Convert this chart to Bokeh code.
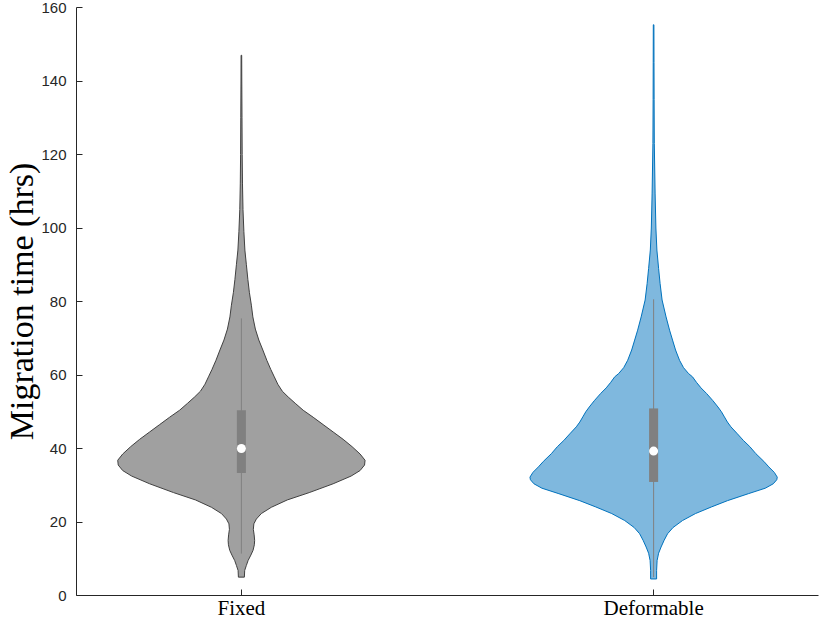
from bokeh.plotting import figure
from bokeh.models import Range1d, FixedTicker
from bokeh.embed import file_html
from bokeh.resources import INLINE

# ---------------- data ----------------
categories = ["Fixed", "Deformable"]
positions = [1, 2]
y_ticks = [0, 20, 40, 60, 80, 100, 120, 140, 160]

# violin outlines: y values and relative half-widths (density)
fixed_y = [5.0, 6.8, 8.2, 9.5, 11.0, 12.3, 13.8, 15.0, 16.5, 18.0, 19.5, 20.8, 22.3,
           24.0, 26.0, 28.0, 30.4, 32.5, 34.0, 35.5, 36.8, 38.5, 40.5, 42.5, 44.5,
           46.5, 48.5, 50.4, 52.3, 54.0, 55.6, 57.5, 59.5, 61.5, 64.0, 66.8, 69.5,
           72.5, 75.8, 79.0, 82.5, 86.0, 90.0, 94.0, 99.0, 105.0, 112.0, 120.0,
           130.0, 140.0, 147.0]
fixed_density = [3.0, 3.3, 5.0, 6.7, 9.5, 11.7, 13.0, 13.3, 12.8, 12.0, 12.5, 15.0, 20.0,
                 30.0, 46.0, 68.0, 92.0, 110.0, 119.0, 123.5, 124.0, 119.0, 111.0, 102.0,
                 92.0, 82.0, 72.0, 62.0, 54.0, 47.0, 41.0, 36.5, 33.0, 29.5, 25.5, 21.5,
                 17.5, 14.0, 11.5, 10.0, 8.0, 6.5, 5.0, 3.5, 2.5, 1.6, 1.1, 0.8, 0.6,
                 0.4, 0.3]

deform_y = [4.5, 6.8, 9.5, 11.5, 13.2, 15.0, 16.8, 18.5, 20.4, 22.3, 24.1, 25.8, 27.7,
            29.2, 30.4, 31.5, 32.2, 33.5, 35.0, 36.5, 38.6, 40.5, 42.2, 44.0, 45.9,
            47.2, 48.6, 50.0, 51.3, 53.0, 55.0, 56.5, 58.0, 59.5, 60.4, 62.0, 64.0,
            66.8, 69.5, 72.2, 75.8, 80.4, 84.9, 89.0, 94.0, 100.0, 109.5, 123.0,
            135.0, 145.0, 155.3]
deform_density = [3.0, 3.0, 3.5, 5.0, 7.5, 10.5, 14.0, 19.5, 29.0, 42.0, 58.0, 74.0, 95.0,
                  112.0, 120.0, 123.5, 124.0, 121.0, 115.5, 110.5, 102.5, 96.5, 90.0,
                  84.0, 77.5, 74.0, 71.0, 68.0, 64.5, 59.5, 53.0, 47.5, 43.0, 39.0, 35.0,
                  30.0, 26.0, 22.0, 19.0, 16.0, 12.5, 8.5, 6.5, 5.0, 3.3, 2.3, 1.5, 0.7,
                  0.5, 0.4, 0.3]

# box-plot statistics
medians = [40.0, 39.3]
q1 = [33.3, 30.9]
q3 = [50.4, 50.9]
whisker_low = [11.4, 5.0]
whisker_high = [75.4, 80.6]

# ---------------- styles ----------------
fill_colors = ["#A0A0A0", "#7FB8DE"]
edge_colors = ["#404040", "#0072BD"]
box_color = "#808080"
axis_color = "#262626"
half_width = 0.30
box_width = 0.022

p = figure(width=822, height=624,
           x_range=Range1d(0.6, 2.4), y_range=Range1d(0, 160),
           output_backend="svg", toolbar_location=None,
           min_border_left=78, min_border_right=2,
           min_border_top=8, min_border_bottom=28)
p.styles = {"margin": "-1px 0px -10px -2px"}
p.outline_line_color = None
p.xgrid.visible = False
p.ygrid.visible = False
p.background_fill_color = "white"
p.border_fill_color = "white"

violins = [(fixed_y, fixed_density), (deform_y, deform_density)]
for i, (ys, dens) in enumerate(violins):
    c = positions[i]
    m = max(dens)
    right = [c + half_width * d / m for d in dens]
    left = [c - half_width * d / m for d in dens]
    px = right + left[::-1]
    py = list(ys) + list(ys)[::-1]
    p.patch(px, py, fill_color=fill_colors[i], line_color=edge_colors[i], line_width=1)

p.segment(x0=positions, y0=whisker_low, x1=positions, y1=whisker_high,
          line_color=box_color, line_width=1)
p.vbar(x=positions, bottom=q1, top=q3, width=box_width,
       fill_color=box_color, line_color=None)
p.scatter(x=positions, y=medians, size=9, fill_color="white", line_color=None)

# axes
p.xaxis.ticker = FixedTicker(ticks=positions)
p.xaxis.major_label_overrides = {pos: cat for pos, cat in zip(positions, categories)}
p.yaxis.ticker = FixedTicker(ticks=y_ticks)
for ax in (p.xaxis[0], p.yaxis[0]):
    ax.axis_line_color = axis_color
    ax.axis_line_width = 1
    ax.major_tick_line_color = axis_color
    ax.major_tick_in = 6
    ax.major_tick_out = 0
    ax.minor_tick_line_color = None
    ax.major_label_text_color = axis_color

p.yaxis.major_label_text_font = "Liberation Sans"
p.yaxis.major_label_text_font_size = "15px"
p.yaxis.major_label_standoff = 10

p.xaxis.major_label_text_font = "Liberation Serif"
p.xaxis.major_label_text_font_size = "21px"
p.xaxis.major_label_text_color = "#000000"
p.xaxis.major_label_standoff = 0

p.yaxis.axis_label = "Migration time (hrs)"
p.yaxis.axis_label_text_font = "Liberation Serif"
p.yaxis.axis_label_text_font_size = "34px"
p.yaxis.axis_label_text_font_style = "normal"
p.yaxis.axis_label_text_color = "#000000"
p.yaxis.axis_label_standoff = -2

open("out.html", "w").write(file_html(p, INLINE))
